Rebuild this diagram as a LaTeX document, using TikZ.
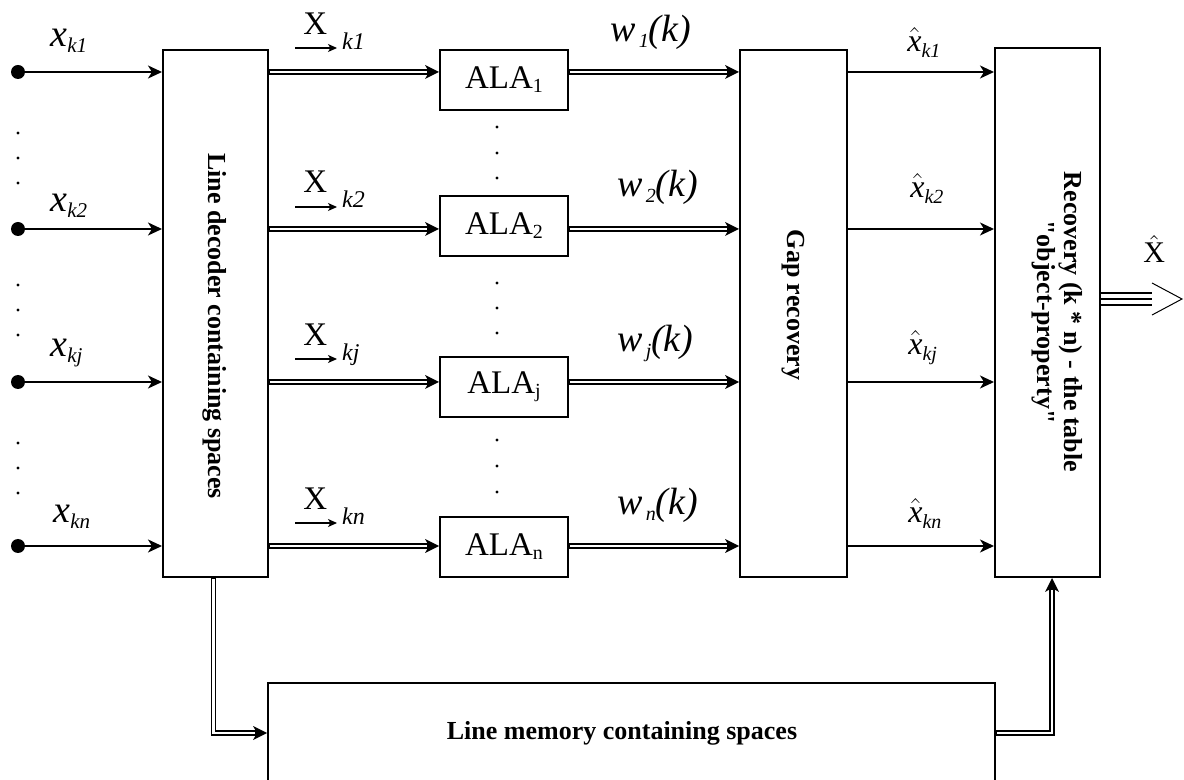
\documentclass[tikz,border=0pt]{standalone}
\usepackage{fontspec}
\setmainfont{Liberation Serif}
\usetikzlibrary{arrows.meta,calc}
\newcommand{\fsz}[1]{\fontsize{#1}{#1}\selectfont}
\newcommand{\xin}[1]{\textit{x}\raisebox{-3pt}{\fsz{10.5}\textit{#1}}}
\newcommand{\xvec}[1]{X\hspace{7.5pt}\raisebox{-7.5pt}{\fsz{12}\textit{#1}}}
\newcommand{\wout}[1]{\textit{w}\hspace{1.5pt}\raisebox{-3pt}{\fsz{10}\textit{#1}}\textit{(k)}}
\newcommand{\xhat}[1]{\ensuremath{\hat{\hbox{\textit{x}}}}\raisebox{-3pt}{\fsz{10}\textit{#1}}}
\newcommand{\ala}[1]{ALA\raisebox{-2pt}{\fsz{10}#1}}
\begin{document}
\begin{tikzpicture}[x=0.5pt,y=-0.5pt,
  box/.style={draw, line width=1pt, inner sep=0pt},
  boldtxt/.style={font=\fsz{13}\bfseries, inner sep=0pt},
  sarrow/.style={line width=0.9pt, -{Stealth[length=7pt,width=6.5pt,inset=2pt]}},
  darrow/.style={draw=white, line width=1.2pt, shorten >=6pt, shorten <=0.6pt,
    preaction={draw=black, line width=2.8pt, shorten >=0pt, shorten <=0pt,
      -{Stealth[length=7pt,width=7pt,inset=2pt,line width=0pt]}}},
  vecarrow/.style={line width=0.6pt, -{Stealth[length=4.5pt,width=4pt,inset=1.2pt]}},
  indot/.style={circle, fill, inner sep=0pt, minimum size=7pt},
  lbl/.style={anchor=base west, inner sep=0pt}]
\useasboundingbox (0,0) rectangle (1184,780);
\clip (0,0) rectangle (1184,780);

% boxes
\node[box, minimum width=52.5pt, minimum height=263.5pt] (dec) at (215.5,313.5) {};
\node[box, minimum width=64pt, minimum height=30pt] (a1) at (504,80) {};
\node[box, minimum width=64pt, minimum height=30pt] (a2) at (504,226) {};
\node[box, minimum width=64pt, minimum height=30pt] (a3) at (504,387) {};
\node[box, minimum width=64pt, minimum height=30pt] (a4) at (504,547) {};
\node[box, minimum width=53.5pt, minimum height=263.5pt] (gap) at (793.5,313.5) {};
\node[box, minimum width=52.5pt, minimum height=264.5pt] (rec) at (1047.5,312.5) {};
\node[box, minimum width=363.5pt, minimum height=50pt] (mem) at (631.5,733) {};

% box texts
\node[boldtxt, rotate=-90] (dect) at (215,326) {Line decoder containing spaces};
\node[boldtxt, rotate=-90] (gapt) at (793,305) {Gap recovery};
\node[boldtxt, rotate=-90, align=center, font=\fontsize{13}{13.6}\selectfont\bfseries] (rect) at (1057,322) {Recovery (k * n) - the table\\\textquotedbl object-property\textquotedbl};
\node[boldtxt] (memt) at (622,733) {Line memory containing spaces};
\node[inner sep=0pt, font=\fsz{16.5}] (a1t) at (a1.center) {\ala{1}};
\node[inner sep=0pt, font=\fsz{16.5}] (a2t) at (a2.center) {\ala{2}};
\node[inner sep=0pt, font=\fsz{16.5}] (a3t) at (a3.center) {\ala{j}};
\node[inner sep=0pt, font=\fsz{16.5}] (a4t) at (a4.center) {\ala{n}};

% inputs
\node[indot] (i1) at (18,72) {};
\node[indot] (i2) at (18,229) {};
\node[indot] (i3) at (18,382) {};
\node[indot] (i4) at (18,546) {};

\foreach \y in {133,158,183,285,310,335,443,468,493} \fill (18,\y) circle (0.8pt);
\foreach \y in {127,153,178,283,308,333,440,466,492} \fill (497,\y) circle (0.8pt);

% connectors
\foreach \k in {1,2,3,4} {
  \draw[sarrow] (i\k) -- (i\k -| dec.west);
  \draw[darrow] (i\k -| dec.east) -- (i\k -| a\k.west);
  \draw[darrow] (i\k -| a\k.east) -- (i\k -| gap.west);
  \draw[sarrow] (i\k -| gap.east) -- (i\k -| rec.west);
}
\draw[darrow] ([xshift=-1pt]dec.south) |- (mem.west);
\draw[darrow] (mem.east) -| ([xshift=2.25pt]rec.south);

% output
\coordinate (o1) at (rec.east |- 0,293);
\coordinate (o2) at (rec.east |- 0,299);
\coordinate (o3) at (rec.east |- 0,305);
\draw[line width=0.7pt] (o1) -- (1152,293);
\draw[line width=0.7pt] (o2) -- (1152,299);
\draw[line width=0.7pt] (o3) -- (1152,305);
\draw[line width=0.5pt] (1152,283) -- (1182,299) -- (1152,315);
\node[lbl, font=\fsz{15}] (xo) at (1143,263) {\ensuremath{\hat{\hbox{X}}}};

% input labels
\node[lbl, font=\fsz{19}] (lx1) at (50,47) {\xin{k1}};
\node[lbl, font=\fsz{19}] (lx2) at (50,212) {\xin{k2}};
\node[lbl, font=\fsz{19}] (lx3) at (50,357) {\xin{kj}};
\node[lbl, font=\fsz{19}] (lx4) at (53,523) {\xin{kn}};

% vector labels
\node[lbl, font=\fsz{16.5}] (lv1) at (303,35) {\xvec{k1}};
\node[lbl, font=\fsz{16.5}] (lv2) at (303,193) {\xvec{k2}};
\node[lbl, font=\fsz{16.5}] (lv3) at (303,346) {\xvec{kj}};
\node[lbl, font=\fsz{16.5}] (lv4) at (303,510) {\xvec{kn}};
\draw[vecarrow] (295,48) -- (337,48);
\draw[vecarrow] (295,207) -- (337,207);
\draw[vecarrow] (295,359) -- (337,359);
\draw[vecarrow] (295,523) -- (337,523);

% w labels
\node[lbl, font=\fsz{19}] (lw1) at (610,42) {\wout{1}};
\node[lbl, font=\fsz{19}] (lw2) at (617,197) {\wout{2}};
\node[lbl, font=\fsz{19}] (lw3) at (617,352) {\wout{j}};
\node[lbl, font=\fsz{19}] (lw4) at (617,515) {\wout{n}};

% xhat labels
\node[lbl, font=\fsz{16}] (lh1) at (907,52) {\xhat{k1}};
\node[lbl, font=\fsz{16}] (lh2) at (910,198) {\xhat{k2}};
\node[lbl, font=\fsz{16}] (lh3) at (908,355) {\xhat{kj}};
\node[lbl, font=\fsz{16}] (lh4) at (908,523) {\xhat{kn}};
\end{tikzpicture}
\end{document}
